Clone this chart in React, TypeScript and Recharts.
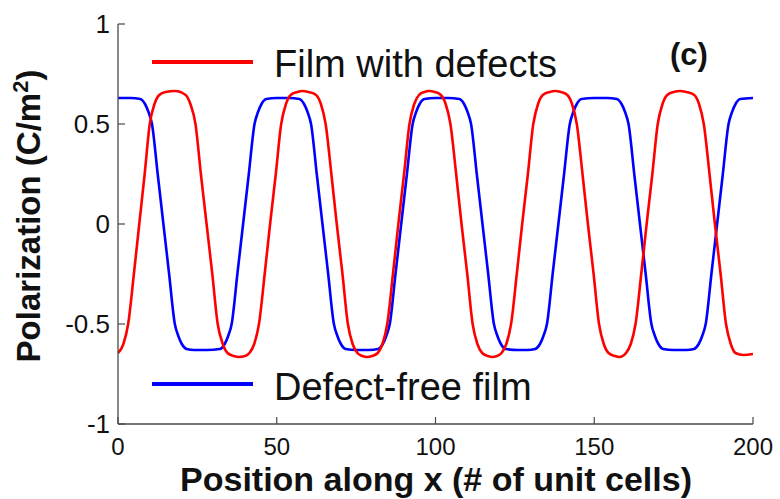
import React from 'react';
import { LineChart, Line, XAxis, YAxis } from 'recharts';

const xTicks = [0, 50, 100, 150, 200];
const xTickLabels = ['0', '50', '100', '150', '200'];
const yTicks = [-1, -0.5, 0, 0.5, 1];
const yTickLabels = ['-1', '-0.5', '0', '0.5', '1'];
const seriesNames = ['Film with defects', 'Defect-free film'];
const panelTag = '(c)';
const xTitle = 'Position along x (# of unit cells)';

const redPos = [
  0, 1.7, 3.2, 5, 6.7, 8.4, 10, 11.5, 13, 15, 18,
  21.3, 22.8, 24.4, 26.1, 27.9, 29.7, 31.4, 33, 34.5, 36.5, 38, 40,
  41.4, 42.9, 44.4, 46.2, 47.9, 49.7, 51.4, 52.9, 54.4, 56.5, 58, 60,
  62.4, 63.9, 65.4, 67.2, 68.9, 70.7, 72.4, 73.9, 75.4, 77, 78.5, 80,
  81.8, 83.3, 84.8, 86.6, 88.3, 90.1, 91.8, 93.3, 94.8, 96.5, 98, 99.8,
  101.7, 103.2, 104.7, 106.5, 108.2, 110, 111.7, 113.2, 114.7, 116.5, 118, 119.3,
  120.8, 122.3, 123.8, 125.6, 127.3, 129.1, 130.8, 132.3, 133.8, 136, 137.5, 139.5,
  141.5, 143, 144.5, 146.3, 148, 149.8, 151.5, 153, 154.5, 156.5, 158,
  160, 161.5, 163, 164.8, 166.5, 168.3, 170, 171.5, 173, 175, 177, 179,
  181.5, 183, 184.5, 186.3, 188, 189.8, 191.5, 193, 194.5, 197, 200,
];
const redVal = [
  -0.645, -0.6, -0.5, -0.25, 0, 0.25, 0.5, 0.6, 0.645, 0.66, 0.665,
  0.645, 0.6, 0.5, 0.25, 0, -0.25, -0.5, -0.6, -0.645, -0.66, -0.665, -0.66,
  -0.645, -0.6, -0.5, -0.25, 0, 0.25, 0.5, 0.6, 0.645, 0.66, 0.665, 0.66,
  0.645, 0.6, 0.5, 0.25, 0, -0.25, -0.5, -0.6, -0.645, -0.66, -0.665, -0.66,
  -0.645, -0.6, -0.5, -0.25, 0, 0.25, 0.5, 0.6, 0.645, 0.66, 0.665, 0.66,
  0.645, 0.6, 0.5, 0.25, 0, -0.25, -0.5, -0.6, -0.645, -0.66, -0.665, -0.66,
  -0.645, -0.6, -0.5, -0.25, 0, 0.25, 0.5, 0.6, 0.645, 0.66, 0.665, 0.66,
  0.645, 0.6, 0.5, 0.25, 0, -0.25, -0.5, -0.6, -0.645, -0.66, -0.665,
  -0.645, -0.6, -0.5, -0.25, 0, 0.25, 0.5, 0.6, 0.645, 0.66, 0.665, 0.66,
  0.645, 0.6, 0.5, 0.25, 0, -0.25, -0.5, -0.6, -0.645, -0.655, -0.65,
];

const bluePos = [
  0, 4, 7, 8.5, 9.6, 10.7, 12.5, 14.3, 16.1, 17.9, 19, 20.1, 21.6, 24, 28,
  32.1, 33.6, 34.7, 35.8, 37.6, 39.4, 41.2, 43, 44.1, 45.2, 46.7, 50, 54,
  57.1, 58.6, 59.7, 60.8, 62.6, 64.4, 66.2, 68, 69.1, 70.2, 71.7, 75, 79,
  81.9, 83.4, 84.5, 85.6, 87.4, 89.2, 91, 92.8, 93.9, 95, 96.5, 100, 104,
  107.5, 109, 110.1, 111.2, 113, 114.8, 116.6, 118.4, 119.5, 120.6, 122.1, 126, 129,
  131.4, 132.9, 134, 135.1, 136.9, 138.7, 140.5, 142.3, 143.4, 144.5, 146, 150, 154,
  157.1, 158.6, 159.7, 160.8, 162.6, 164.4, 166.2, 168, 169.1, 170.2, 171.7, 175, 179,
  181.4, 182.9, 184, 185.1, 186.9, 188.7, 190.5, 192.3, 193.4, 194.5, 196, 200,
];
const blueVal = [
  0.63, 0.63, 0.625, 0.6, 0.56, 0.5, 0.25, 0, -0.25, -0.5, -0.56, -0.6, -0.625, -0.63, -0.63,
  -0.625, -0.6, -0.56, -0.5, -0.25, 0, 0.25, 0.5, 0.56, 0.6, 0.625, 0.63, 0.63,
  0.625, 0.6, 0.56, 0.5, 0.25, 0, -0.25, -0.5, -0.56, -0.6, -0.625, -0.63, -0.63,
  -0.625, -0.6, -0.56, -0.5, -0.25, 0, 0.25, 0.5, 0.56, 0.6, 0.625, 0.63, 0.63,
  0.625, 0.6, 0.56, 0.5, 0.25, 0, -0.25, -0.5, -0.56, -0.6, -0.625, -0.63, -0.63,
  -0.625, -0.6, -0.56, -0.5, -0.25, 0, 0.25, 0.5, 0.56, 0.6, 0.625, 0.63, 0.63,
  0.625, 0.6, 0.56, 0.5, 0.25, 0, -0.25, -0.5, -0.56, -0.6, -0.625, -0.63, -0.63,
  -0.625, -0.6, -0.56, -0.5, -0.25, 0, 0.25, 0.5, 0.56, 0.6, 0.625, 0.63,
];

const redData = redPos.map((x, i) => ({ x, y: redVal[i] }));
const blueData = bluePos.map((x, i) => ({ x, y: blueVal[i] }));

const FRAME = '#4a4a4a';
const RED = '#ff0000';
const BLUE = '#0000ff';
const FONT = '"Liberation Sans", Arial, sans-serif';

const BottomTick = (props: any) => {
  const { x, y, payload } = props;
  const i = xTicks.indexOf(payload.value);
  return (
    <g>
      <line x1={x} y1={y} x2={x} y2={y - 7} stroke={FRAME} strokeWidth={1.2} />
      <text x={x} y={y + 31} textAnchor="middle" fontSize={24} fontFamily={FONT} fill="#111">
        {xTickLabels[i]}
      </text>
    </g>
  );
};

const LeftTick = (props: any) => {
  const { x, y, payload } = props;
  const i = yTicks.indexOf(payload.value);
  return (
    <g>
      <line x1={x} y1={y} x2={x + 7} y2={y} stroke={FRAME} strokeWidth={1.2} />
      <text x={x - 8} y={y + 8.5} textAnchor="end" fontSize={26} fontFamily={FONT} fill="#111">
        {yTickLabels[i]}
      </text>
    </g>
  );
};

const TopTick = (props: any) => {
  const { x, y } = props;
  return <line x1={x} y1={y} x2={x} y2={y + 7} stroke={FRAME} strokeWidth={1.2} />;
};

const RightTick = (props: any) => {
  const { x, y } = props;
  return <line x1={x} y1={y} x2={x - 7} y2={y} stroke={FRAME} strokeWidth={1.2} />;
};

export default function App() {
  return (
    <div style={{ position: 'absolute', left: 0, top: 0, width: 780, height: 499, background: '#fff' }}>
      <LineChart width={780} height={499} margin={{ top: 24, right: 27, bottom: 0, left: 0 }}>
        <XAxis
          xAxisId="b"
          dataKey="x"
          type="number"
          domain={[0, 200]}
          ticks={xTicks}
          interval={0}
          height={75}
          tickSize={0}
          tickMargin={0}
          tickLine={false}
          tick={<BottomTick />}
          axisLine={{ stroke: FRAME, strokeWidth: 1.3 }}
          allowDataOverflow
        />
        <XAxis
          xAxisId="t"
          orientation="top"
          dataKey="x"
          type="number"
          domain={[0, 200]}
          ticks={xTicks}
          interval={0}
          height={0}
          tickSize={0}
          tickMargin={0}
          tickLine={false}
          tick={<TopTick />}
          axisLine={{ stroke: FRAME, strokeWidth: 1.3 }}
          allowDataOverflow
        />
        <YAxis
          yAxisId="l"
          type="number"
          domain={[-1, 1]}
          ticks={yTicks}
          interval={0}
          width={118}
          tickSize={0}
          tickMargin={0}
          tickLine={false}
          tick={<LeftTick />}
          axisLine={{ stroke: FRAME, strokeWidth: 1.3 }}
          allowDataOverflow
        />
        <YAxis
          yAxisId="r"
          orientation="right"
          type="number"
          domain={[-1, 1]}
          ticks={yTicks}
          interval={0}
          width={0}
          tickSize={0}
          tickMargin={0}
          tickLine={false}
          tick={<RightTick />}
          axisLine={{ stroke: FRAME, strokeWidth: 1.3 }}
          allowDataOverflow
        />
        <Line
          xAxisId="b"
          yAxisId="l"
          data={blueData}
          dataKey="y"
          name={seriesNames[1]}
          type="monotone"
          stroke={BLUE}
          strokeWidth={2.6}
          dot={false}
          activeDot={false}
          isAnimationActive={false}
        />
        <Line
          xAxisId="b"
          yAxisId="l"
          data={redData}
          dataKey="y"
          name={seriesNames[0]}
          type="monotone"
          stroke={RED}
          strokeWidth={2.6}
          dot={false}
          activeDot={false}
          isAnimationActive={false}
        />
        <g>
          <line x1={152} y1={62} x2={253} y2={62} stroke={RED} strokeWidth={4} />
          <text x={274} y={77} fontSize={38} fontFamily={FONT} fill="#111">{seriesNames[0]}</text>
          <line x1={152} y1={384} x2={253} y2={384} stroke={BLUE} strokeWidth={4} />
          <text x={274} y={400} fontSize={38} fontFamily={FONT} fill="#111">{seriesNames[1]}</text>
          <text x={689} y={65} textAnchor="middle" fontSize={31} fontWeight="bold" fontFamily={FONT} fill="#111">{panelTag}</text>
          <text x={436} y={491} textAnchor="middle" fontSize={34} fontWeight="bold" fontFamily={FONT} fill="#111">{xTitle}</text>
          <text transform="translate(40,216) rotate(-90)" textAnchor="middle" fontSize={33} fontWeight="bold" fontFamily={FONT} fill="#111">
            Polarization (C/m<tspan fontSize={22} dy={-12}>2</tspan><tspan dy={12}>)</tspan>
          </text>
        </g>
      </LineChart>
    </div>
  );
}
